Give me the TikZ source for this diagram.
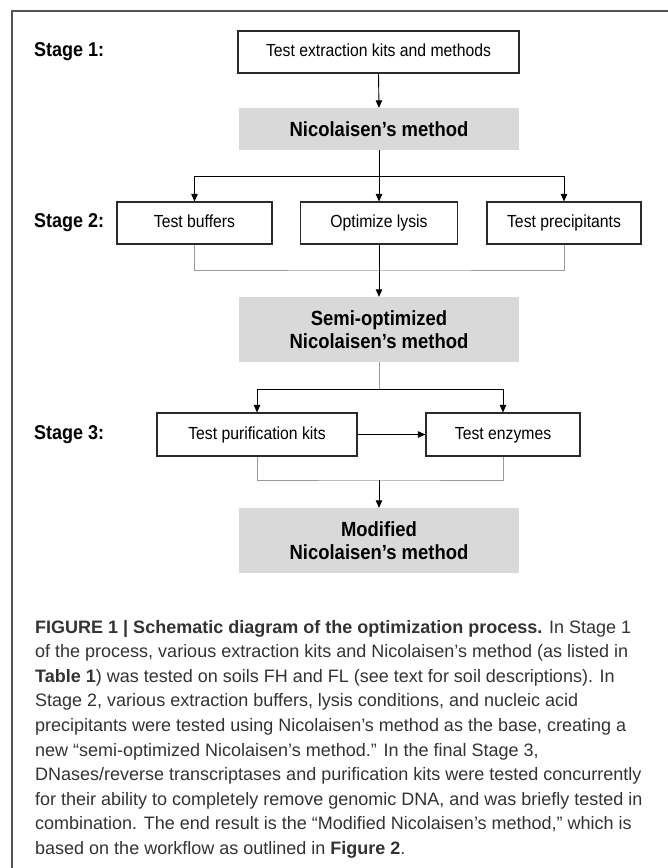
\documentclass[tikz,border=0pt]{standalone}
\usepackage{fontspec}
\usetikzlibrary{arrows.meta}
\newfontfamily\diagfont[FakeStretch=0.9]{Liberation Sans}
\newfontfamily\capfont{Liberation Sans}
\definecolor{boxline}{HTML}{2A2A2A}
\definecolor{grayfill}{HTML}{D9D9D9}
\definecolor{gline}{HTML}{9A9A9A}
\definecolor{framec}{HTML}{555555}
\definecolor{captext}{HTML}{333333}
\begin{document}
\begin{tikzpicture}[x=1pt,y=-1pt,
  whitebox/.style={draw=boxline, line width=1.2pt, fill=white, inner sep=0pt,
    text height=12.5pt, text depth=3.5pt,
    font=\diagfont\fontsize{17.5}{21}\selectfont, text=black},
  graybox/.style={fill=grayfill, draw=none, inner sep=0pt, align=center,
    font=\diagfont\bfseries\fontsize{20.5}{22.5}\selectfont, text=black},
  stagelbl/.style={anchor=west, inner sep=0pt, font=\diagfont\bfseries\fontsize{20}{22}\selectfont, text=black},
  arr/.style={draw=black, line width=0.9pt, -{Triangle[length=7.5pt,width=6.5pt]}},
  gconn/.style={draw=gline, line width=1pt},
  bconn/.style={draw=black, line width=0.9pt},
  capline/.style={anchor=base west, inner sep=0pt, text=captext, font=\capfont\fontsize{18}{24.6}\selectfont},
  framel/.style={draw=framec, line width=1.2pt}
]
\useasboundingbox (0,0) rectangle (668,868);
\fill[white] (0,0) rectangle (668,868);
\draw[framel] (12,868) -- (12,11) -- (668,11);

% stage labels
\node[stagelbl] (st1) at (34,52) {Stage 1:};
\node[stagelbl] (st2) at (34,223) {Stage 2:};
\node[stagelbl] (st3) at (34,434.5) {Stage 3:};

% nodes
\node[whitebox, minimum width=281pt, minimum height=42pt] (box1) at (378.5,52) {Test extraction kits and methods};
\node[graybox, minimum width=280pt, minimum height=42pt] (nic) at (379,129) {Nicolaisen’s method};
\node[whitebox, minimum width=155pt, minimum height=42pt] (buf) at (194.5,223) {Test buffers};
\node[whitebox, minimum width=157pt, minimum height=42pt] (lys) at (379,223) {Optimize lysis};
\node[whitebox, minimum width=154pt, minimum height=42pt] (pre) at (564,223) {Test precipitants};
\node[graybox, minimum width=280pt, minimum height=65pt] (semi) at (379,329.5) {Semi-optimized\\Nicolaisen’s method};
\node[whitebox, minimum width=200pt, minimum height=43pt] (pur) at (257,434.5) {Test purification kits};
\node[whitebox, minimum width=154pt, minimum height=43pt] (enz) at (503,434.5) {Test enzymes};
\node[graybox, minimum width=280pt, minimum height=65pt] (mod) at (379,540.5) {Modified\\Nicolaisen’s method};

% junction coordinates
\coordinate (s1) at (379,176);
\coordinate (j2) at (379,270);
\coordinate (s3) at (379,389);
\coordinate (j3) at (379,480);

% stage 1 connectors
\draw[arr] (box1.south) -- (nic.north);
\draw[bconn] (nic.south) -- (s1);
\draw[arr] (s1) -| (buf.north);
\draw[arr] (s1) -| (pre.north);
\draw[arr] (s1) -- (lys.north);

% stage 2 connectors
\draw[gconn] (buf.south) |- (j2) -| (pre.south);
\draw[arr] (lys.south) -- (semi.north);

% stage 3 connectors
\draw[gconn] (semi.south) -- (s3);
\draw[arr] (s3) -| (pur.north);
\draw[arr] (s3) -| (enz.north);
\draw[arr] (pur.east) -- (enz.west);
\draw[gconn] (pur.south) |- (j3) -| (enz.south);
\draw[arr] (j3) -- (mod.north);

% caption
\node[capline] (c1) at (35,633) {\textbf{FIGURE 1 | Schematic diagram of the optimization process.} In Stage 1};
\node[capline] (c2) at (35,657.6) {of the process, various extraction kits and Nicolaisen’s method (as listed in};
\node[capline] (c3) at (35,682.2) {\textbf{Table 1}) was tested on soils FH and FL (see text for soil descriptions). In};
\node[capline] (c4) at (35,706.8) {Stage 2, various extraction buffers, lysis conditions, and nucleic acid};
\node[capline] (c5) at (35,731.4) {precipitants were tested using Nicolaisen’s method as the base, creating a};
\node[capline] (c6) at (35,756) {new “semi-optimized Nicolaisen’s method.” In the final Stage 3,};
\node[capline] (c7) at (35,780.6) {DNases/reverse transcriptases and purification kits were tested concurrently};
\node[capline] (c8) at (35,805.2) {for their ability to completely remove genomic DNA, and was briefly tested in};
\node[capline] (c9) at (35,829.8) {combination. The end result is the “Modified Nicolaisen’s method,” which is};
\node[capline] (c10) at (35,854.4) {based on the workflow as outlined in \textbf{Figure 2}.};
\end{tikzpicture}
\end{document}
